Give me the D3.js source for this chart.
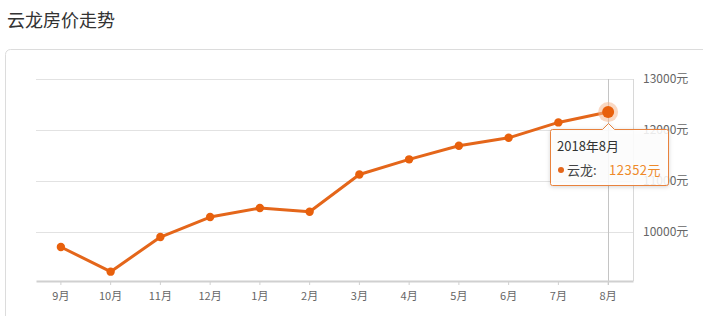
<!DOCTYPE html>
<html><head><meta charset="utf-8">
<script src="https://cdn.jsdelivr.net/npm/d3@7"></script>
<style>
html,body{margin:0;padding:0;background:#fff;}
svg{display:block;font-family:"Noto Sans CJK SC","Noto Sans",sans-serif;}
</style></head>
<body>
<svg id="c" width="703" height="316"></svg>
<script>
const title = "云龙房价走势";
const months = ["9月","10月","11月","12月","1月","2月","3月","4月","5月","6月","7月","8月"];
const prices = [9707, 9223, 9902, 10294, 10470, 10397, 11127, 11425, 11691, 11847, 12149, 12352];
const yTicks = [10000, 11000, 12000, 13000];
const seriesName = "云龙";
const tipTitle = "2018年8月";
const unit = "元";
const hoverIndex = 11;

const svg = d3.select("#c");
const orange = "#e4661a";

// title
svg.append("text").attr("x",7).attr("y",27).attr("font-size",18).attr("fill","#333").text(title);

// panel
svg.append("rect").attr("x",5.5).attr("y",49.5).attr("width",720).attr("height",300).attr("rx",5)
  .attr("fill","#fff").attr("stroke","#dcdcdc");

const x = d3.scaleBand().domain(months).range([36,633]).padding(0);
const cx = d => x(d) + x.bandwidth()/2;
const y = d3.scaleLinear().domain([9040,13000]).range([281,79]);

// grid lines
svg.append("g").selectAll("line").data(yTicks).join("line")
  .attr("x1",36).attr("x2",633).attr("y1",d=>Math.round(y(d))+0.5).attr("y2",d=>Math.round(y(d))+0.5)
  .attr("stroke","#e2e2e2");

// right border
svg.append("line").attr("x1",633.5).attr("x2",633.5).attr("y1",Math.round(y(13000))).attr("y2",y.range()[0])
  .attr("stroke","#d8d8d8");

// y labels (right)
svg.append("g").selectAll("text").data(yTicks).join("text")
  .attr("x",643).attr("y",d=>y(d)).attr("dy","0.35em").attr("font-size",12).attr("fill","#666")
  .text(d=>d+unit);

// crosshair
svg.append("line").attr("x1",Math.round(cx(months[hoverIndex]))+0.5).attr("x2",Math.round(cx(months[hoverIndex]))+0.5)
  .attr("y1",Math.round(y(13000))).attr("y2",y.range()[0]+4).attr("stroke","#c4c4c4");

// x axis
const xAxis = d3.axisBottom(x).tickSize(4).tickSizeOuter(0).tickPadding(7);
const gx = svg.append("g").attr("transform",`translate(0,${y.range()[0]})`).call(xAxis);
gx.select(".domain").attr("stroke","#d0d0d0").attr("stroke-width",2);
gx.selectAll(".tick line").attr("stroke","#d0d0d0");
gx.selectAll(".tick text").attr("fill","#666").attr("font-size",11).attr("font-family",'"Noto Sans CJK SC",sans-serif');

// line
const line = d3.line().x((d,i)=>cx(months[i])).y(d=>y(d));
svg.append("path").datum(prices).attr("d",line).attr("fill","none").attr("stroke",orange)
  .attr("stroke-width",3).attr("stroke-linejoin","round");

// points
svg.append("g").selectAll("circle").data(prices).join("circle")
  .attr("cx",(d,i)=>cx(months[i])).attr("cy",d=>y(d)).attr("r",(d,i)=>i===hoverIndex?0:4.2)
  .attr("fill","#e8600c");

// highlight
const hx = cx(months[hoverIndex]), hy = y(prices[hoverIndex]);
svg.append("circle").attr("cx",hx).attr("cy",hy).attr("r",10).attr("fill","#f6b88f").attr("opacity",0.55);
svg.append("circle").attr("cx",hx).attr("cy",hy).attr("r",6).attr("fill","#e8600c");

// tooltip
const defs = svg.append("defs");
const f = defs.append("filter").attr("id","sh").attr("x","-20%").attr("y","-20%").attr("width","140%").attr("height","160%");
f.append("feDropShadow").attr("dx",0).attr("dy",1).attr("stdDeviation",2).attr("flood-color","#000").attr("flood-opacity",0.18);

const bx = 550.5, by = 129.5, bw = 118, bh = 56, ax = Math.round(hx)+0.5, aw = 6, ah = 6;
const p = d3.path();
p.moveTo(bx+2,by);
p.lineTo(ax-aw,by); p.lineTo(ax,by-ah); p.lineTo(ax+aw,by);
p.lineTo(bx+bw-2,by); p.quadraticCurveTo(bx+bw,by,bx+bw,by+2);
p.lineTo(bx+bw,by+bh-2); p.quadraticCurveTo(bx+bw,by+bh,bx+bw-2,by+bh);
p.lineTo(bx+2,by+bh); p.quadraticCurveTo(bx,by+bh,bx,by+bh-2);
p.lineTo(bx,by+2); p.quadraticCurveTo(bx,by,bx+2,by);
p.closePath();
svg.append("path").attr("d",p.toString()).attr("fill","rgba(255,255,255,0.86)")
  .attr("stroke","#e8823e").attr("stroke-width",1).attr("filter","url(#sh)");
svg.append("text").attr("x",557).attr("y",151).attr("font-size",13).attr("fill","#333").text(tipTitle);
svg.append("circle").attr("cx",561).attr("cy",170).attr("r",3).attr("fill","#e4661a");
svg.append("text").attr("x",567).attr("y",174.5).attr("font-size",13).attr("fill","#444").text(seriesName+":");
svg.append("text").attr("x",609).attr("y",174.5).attr("font-size",13).attr("fill","#ee8a2a").attr("letter-spacing",0.5)
  .text(prices[hoverIndex]+unit);
</script>
</body></html>
